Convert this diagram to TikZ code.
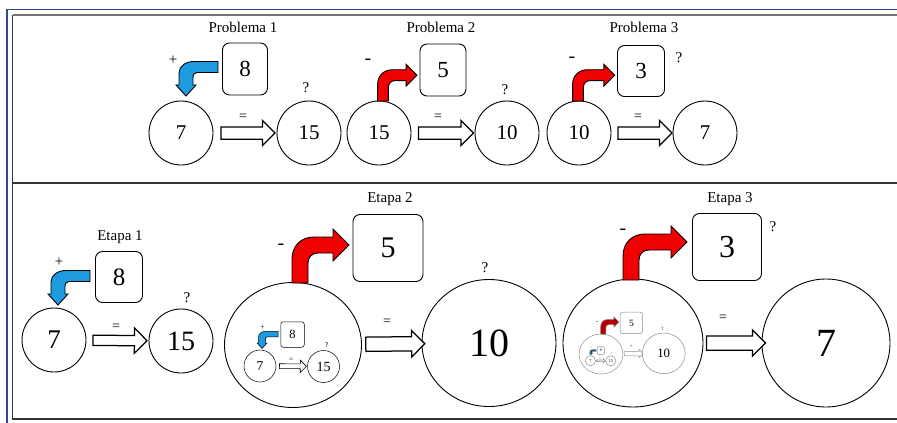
\documentclass[tikz,border=0pt]{standalone}
\usepackage{fontspec}
\setmainfont{Liberation Serif}
\usetikzlibrary{shapes.geometric,shapes.arrows}
\newcommand\fsz[1]{\fontsize{#1}{#1}\selectfont}
\definecolor{arrblue}{HTML}{1E9BDF}
\definecolor{arrred}{HTML}{F00000}
\definecolor{frameblue}{HTML}{2B4A9A}
\tikzset{
 lw/.style={line width=0.9pt},
 hlw/.style={line width=1.25pt},
 dc/.style={draw=black},
 rc/.style={rounded corners=7pt},
 circ/.style={circle, dc, lw, inner sep=0pt},
 ell/.style={ellipse, dc, lw, inner sep=0pt},
 numbox/.style={rectangle, dc, lw, rc, inner sep=0pt},
 hollow/.style={single arrow, dc, hlw, fill=white, single arrow head extend=6.5pt, inner xsep=0pt, inner ysep=5.5pt, sloped},
 redfill/.style={fill=arrred, draw=black, lw},
 bluefill/.style={fill=arrblue, draw=black, lw},
 lbl/.style={inner sep=0pt, font=\fsz{15}},
 eqlbl/.style={inner sep=0pt, font=\fsz{14}},
 minus/.style={inner sep=0pt, font=\fsz{20}},
 inner look/.style={transform shape, lw/.style={line width=0.5pt}, hlw/.style={line width=0.6pt}, rc/.style={rounded corners=2.5pt}},
 faded/.style={transform shape, lw/.style={line width=0.5pt}, hlw/.style={line width=0.5pt}, rc/.style={rounded corners=2.5pt}, dc/.style={draw=black!45}, redfill/.style={fill=arrred!75!black, draw=black!45, lw}, bluefill/.style={fill=arrblue!60!black, draw=black!45, lw}},
 pics/redbend/.style={code={
   \filldraw[redfill] (-8,0) -- (-8,-24) .. controls (-8,-37) and (1,-46) .. (14,-46) -- ({#1-16},-46) -- ({#1-16},-54) -- (#1,-38) -- ({#1-16},-22) -- ({#1-16},-30) -- (18,-30) .. controls (12,-30) and (8,-26) .. (8,-20) -- (8,0) -- cycle;
 }},
 pics/bluebend/.style={code={
   \filldraw[bluefill] (0,-5.5) -- (-24,-5.5) .. controls (-32,-5.5) and (-39,-1) .. (-39,6) -- (-39,18) -- (-42,18) -- (-32,29) -- (-22,18) -- (-25,18) -- (-25,10) .. controls (-25,8) and (-24,5.5) .. (-21,5.5) -- (0,5.5) -- cycle;
 }},
 pics/etapaone/.style={code={
   \node[circ, minimum size=64pt, font=\fsz{27}] (-a) at (0,0) {7};
   \node[circ, minimum size=64pt, font=\fsz{28}] (-b) at (127,1) {15};
   \node[numbox, minimum width=47pt, minimum height=51pt, font=\fsz{25}] (-n) at (65,-63) {8};
   \node[lbl] (-p) at (5,-78) {+};
   \node[lbl] (-q) at (133,-42) {?};
   \node[eqlbl] (-eq) at (62,-13) {=};
   \path (-a) -- (-b) node[hollow, midway, minimum height=54pt, inner ysep=4.5pt, single arrow head extend=7.5pt] (-h) {};
   \pic at (36,-64) {bluebend};
 }},
 pics/etapatwo/.style={code={
   \node[ell, minimum width=137pt, minimum height=125pt] (-e) at (0,0) {};
   \pic[scale=0.5, inner look] (-s) at (-33,21) {etapaone};
   \node[ell, minimum width=134pt, minimum height=127pt, font=\fsz{40}] (-c) at (196,-2) {10};
   \node[numbox, minimum width=70pt, minimum height=67pt, font=\fsz{30}] (-n) at (95,-97) {5};
   \node[minus] (-m) at (-12,-98) {-};
   \node[lbl] (-q) at (192,-77) {?};
   \node[eqlbl] (-eq) at (94,-23) {=};
   \path (-e) -- (-c) node[hollow, midway, minimum height=59pt, inner ysep=6.5pt, single arrow head extend=6pt] (-h) {};
   \pic at (7,-62) {redbend=49};
 }}
}
\begin{document}
\begin{tikzpicture}[x=1pt, y=-1pt]
\useasboundingbox (0,0) rectangle (897,423);
% frame
\draw[frameblue, line width=1.6pt] (7,423) -- (7,9.5) -- (897,9.5);
\draw[black!55, line width=2pt] (897,15) -- (12.5,15);
\draw[black!80, line width=1.3pt] (12.5,15) -- (12.5,419) -- (897,419);
\draw[black!80, line width=1.5pt] (12.5,183) -- (897,183);

% Problema 1
\node[lbl] (t1) at (243,27) {Problema 1};
\node[circ, minimum size=64pt, font=\fsz{21}] (p1a) at (181,133) {7};
\node[circ, minimum size=64pt, font=\fsz{21}] (p1b) at (309,133) {15};
\node[numbox, minimum width=45pt, minimum height=52pt, font=\fsz{23}] (p1n) at (245,69) {8};
\node[lbl] (p1p) at (173,60) {+};
\node[lbl] (p1q) at (306,88) {?};
\node[eqlbl] (p1e) at (243,117) {=};
\path (p1a) -- (p1b) node[hollow, midway, minimum height=54pt] (p1h) {};
\pic at (218,67) {bluebend};

% Problema 2
\node[lbl] (t2) at (441,27) {Problema 2};
\node[circ, minimum size=64pt, font=\fsz{21}] (p2a) at (379,133) {15};
\node[circ, minimum size=64pt, font=\fsz{21}] (p2b) at (507,133) {10};
\node[numbox, minimum width=46pt, minimum height=52pt, font=\fsz{23}] (p2n) at (443,70) {5};
\node[minus] (p2m) at (368,62) {-};
\node[lbl] (p2q) at (505,90) {?};
\node[eqlbl] (p2e) at (438,117) {=};
\path (p2a) -- (p2b) node[hollow, midway, minimum height=55pt] (p2h) {};
\pic[scale=0.68] at (383,101) {redbend=50};

% Problema 3
\node[lbl] (t3) at (644,27) {Problema 3};
\node[circ, minimum size=64pt, font=\fsz{21}] (p3a) at (579,133) {10};
\node[circ, minimum size=64pt, font=\fsz{21}] (p3b) at (705,133) {7};
\node[numbox, minimum width=47pt, minimum height=51pt, font=\fsz{23}] (p3n) at (641,71) {3};
\node[minus] (p3m) at (572,60) {-};
\node[lbl] (p3q) at (679,58) {?};
\node[eqlbl] (p3e) at (638,117) {=};
\path (p3a) -- (p3b) node[hollow, midway, minimum height=54pt] (p3h) {};
\pic[scale=0.68] at (578,101) {redbend=54};

% Etapa 1
\node[lbl] (et1) at (120,237) {Etapa 1};
\pic (E1) at (54,340) {etapaone};

% Etapa 2
\node[lbl] (et2) at (390,199) {Etapa 2};
\pic (E2) at (293,345) {etapatwo};

% Etapa 3
\node[lbl] (et3) at (730,199) {Etapa 3};
\node[ell, minimum width=140pt, minimum height=128pt] (e3) at (633,343) {};
\pic[scale=0.32, faded] (M2) at (601,354) {etapatwo};
\node[circ, minimum size=128pt, font=\fsz{40}] (c3) at (826,343) {7};
\node[numbox, minimum width=69pt, minimum height=67pt, font=\fsz{32}] (n3) at (727,247) {3};
\node[minus] (m3) at (623,232) {-};
\node[lbl] (q3) at (773,227) {?};
\node[eqlbl] (eq3) at (723,318) {=};
\path (e3) -- (c3) node[hollow, midway, minimum height=59pt, inner ysep=6.5pt, single arrow head extend=6pt] (h3) {};
\pic at (631,280) {redbend=56};
\end{tikzpicture}
\end{document}
